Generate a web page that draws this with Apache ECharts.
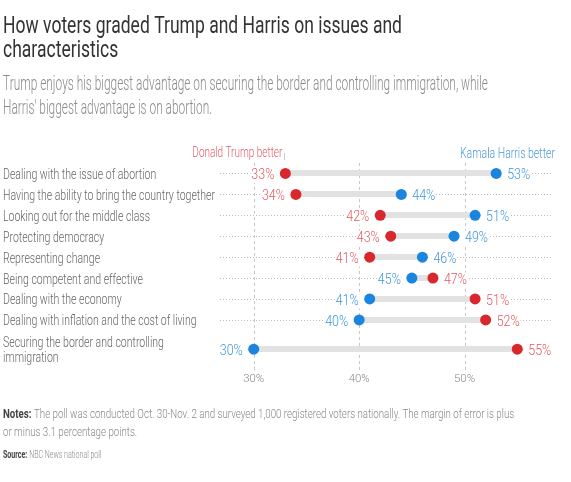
<!DOCTYPE html>
<html><head><meta charset="utf-8">
<script src="https://cdn.jsdelivr.net/npm/echarts@6/dist/echarts.min.js"></script>
<style>html,body{margin:0;padding:0;background:#fff}#c{width:571px;height:482px}</style>
</head><body><div id="c"></div>
<script>
const categories = [
  "Dealing with the issue of abortion",
  "Having the ability to bring the country together",
  "Looking out for the middle class",
  "Protecting democracy",
  "Representing change",
  "Being competent and effective",
  "Dealing with the economy",
  "Dealing with inflation and the cost of living",
  "Securing the border and controlling\nimmigration"
];
const trump  = [33, 34, 42, 43, 41, 47, 51, 52, 55];
const harris = [53, 44, 51, 49, 46, 45, 41, 40, 30];
const xTicks = [30, 40, 50];

const titleText = 'How voters graded Trump and Harris on issues and\ncharacteristics';
const subText = "Trump enjoys his biggest advantage on securing the border and controlling immigration, while\nHarris' biggest advantage is on abortion.";
const notesL1 = 'The poll was conducted Oct. 30-Nov. 2 and surveyed 1,000 registered voters nationally. The margin of error is plus';
const notesL2 = 'or minus 3.1 percentage points.';
const sourceText = 'NBC News national poll';

// Row positions on the y scale: each row is one unit tall, plus extra room per extra label line.
const EXTRA_LINE = 0.8;
const rowH = categories.map(c => 1 + EXTRA_LINE * (c.split('\n').length - 1));
const rowPos = [];
rowH.forEach((h, i) => rowPos.push(i === 0 ? 0 : rowPos[i - 1] + rowH[i - 1] / 2 + h / 2));
const yMin = -rowH[0] / 2, yMax = rowPos[rowPos.length - 1] + rowH[rowH.length - 1] / 2;

const FAM = 'Roboto';
const mctx = document.createElement('canvas').getContext('2d');
function mw(font, text) { mctx.font = font; return mctx.measureText(text).width; }
function scaleFor(size, text, target, weight) {
  return target / mw(`${weight || 'normal'} ${size}px ${FAM}`, text);
}
const catSx = scaleFor(14, categories[1], 212, 300);
const valSx = scaleFor(15, '33%', 23, 300);
const tickSize = Math.min(13, +(13 * 21 / mw(`300 13px ${FAM}`, '30%')).toFixed(2));

const RED = '#d9272e', BLUE = '#1b84df', RED_T = '#e05a60', BLUE_T = '#3d96de';

function valueLabels(vals, other, color) {
  return {
    type: 'custom', silent: true, z: 6,
    data: vals.map((v, i) => [v, rowPos[i], other[i]]),
    encode: { x: 0, y: 1 },
    renderItem: (params, api) => {
      const v = api.value(0), o = api.value(2);
      const p = api.coord([v, api.value(1)]);
      const left = v < o;
      return { type: 'text', x: p[0] + (left ? -6 : 6), y: p[1] + 2, scaleX: valSx,
        style: { text: v + '%', x: 0, y: 0, align: left ? 'right' : 'left', verticalAlign: 'middle',
          fill: color, font: `300 15px ${FAM}`, backgroundColor: '#fff',
          padding: left ? [0, 5 / valSx, 0, 1] : [0, 1, 0, 5 / valSx] } };
    }
  };
}

const chart = echarts.init(document.getElementById('c'), null, { renderer: 'canvas' });
chart.setOption({
  animation: false,
  grid: { left: 220, right: 20, top: 163, bottom: 114 },
  xAxis: {
    type: 'value', min: 26.8, max: 58.2,
    axisLine: { show: false }, axisTick: { show: false }, splitLine: { show: false },
    axisLabel: { customValues: xTicks, formatter: '{value}%', color: '#888', fontFamily: FAM, fontWeight: 300, fontSize: tickSize, margin: 6 }
  },
  yAxis: {
    type: 'value', inverse: true, min: yMin, max: yMax,
    axisLine: { show: false }, axisTick: { show: false }, splitLine: { show: false },
    axisLabel: { show: false }
  },
  series: [
    { type: 'custom', silent: true, z: 0, clip: false,
      data: xTicks.map(v => [v, 0]),
      renderItem: (params, api) => {
        const cs = params.coordSys;
        const x = Math.round(api.coord([api.value(0), 0])[0]) + 0.5;
        return { type: 'line', shape: { x1: x, y1: cs.y, x2: x, y2: cs.y + cs.height + 2 },
          style: { stroke: '#c8c8c8', lineWidth: 1, lineDash: [3, 3] } };
      } },
    { type: 'custom', silent: true, z: 1,
      data: rowPos.map(p => [30, p]),
      renderItem: (params, api) => {
        const cs = params.coordSys;
        const y = Math.round(api.coord([30, api.value(1)])[1]) + 0.5;
        return { type: 'line', shape: { x1: cs.x, y1: y, x2: cs.x + cs.width, y2: y },
          style: { stroke: '#bcbcbc', lineWidth: 1, lineDash: [1, 2] } };
      } },
    { // category labels, placed on the y scale
      type: 'custom', silent: true, z: 3, clip: false,
      data: rowPos.map((p, i) => [30, p, i]),
      renderItem: (params, api) => {
        const cs = params.coordSys;
        const i = api.value(2);
        const y = api.coord([30, api.value(1)])[1];
        return { type: 'text', x: cs.x - 217, y: y + 2, scaleX: catSx,
          style: { text: categories[i], x: 0, y: 0, align: 'left', verticalAlign: 'middle',
            fill: '#666', font: `300 14px ${FAM}`, lineHeight: 15 } };
      } },
    { type: 'custom', silent: true, z: 2,
      data: trump.map((t, i) => [Math.min(t, harris[i]), Math.max(t, harris[i]), rowPos[i]]),
      encode: { x: [0, 1], y: 2 },
      renderItem: (params, api) => {
        const a = api.coord([api.value(0), api.value(2)]);
        const b = api.coord([api.value(1), api.value(2)]);
        return { type: 'rect', shape: { x: a[0], y: Math.round(a[1]) - 3, width: b[0] - a[0], height: 6 },
          style: { fill: '#e2e2e2' } };
      } },
    { name: 'Trump', type: 'scatter', z: 5, symbolSize: 11,
      itemStyle: { color: RED, opacity: 1 }, data: trump.map((v, i) => [v, rowPos[i]]) },
    { name: 'Harris', type: 'scatter', z: 5, symbolSize: 11,
      itemStyle: { color: BLUE, opacity: 1 }, data: harris.map((v, i) => [v, rowPos[i]]) },
    valueLabels(trump, harris, RED_T),
    valueLabels(harris, trump, BLUE_T)
  ]
});

const tp = chart.convertToPixel({ gridIndex: 0 }, [trump[0], rowPos[0]]);
const hp = chart.convertToPixel({ gridIndex: 0 }, [harris[0], rowPos[0]]);

function gtext(x, y, text, size, lh, fill, target, widest, weight) {
  const sx = scaleFor(size, widest, target, weight);
  return { type: 'text', x: x, y: y, scaleX: sx, z: 10,
    style: { text: text, x: 0, y: 0, fill: fill, font: `${weight || 'normal'} ${size}px ${FAM}`,
      lineHeight: lh, verticalAlign: 'top' } };
}
const legT = gtext(0, 145.5, 'Donald Trump better', 15.5, 16, '#e0606a', 90, 'Donald Trump better', 300);
legT.x = tp[0] - 3 - 90;
const legH = gtext(460, 146, 'Kamala Harris better', 14.5, 16, '#4a9ad8', 95, 'Kamala Harris better', 300);

const nSx = scaleFor(13.5, 'Notes: ' + notesL1, 510, 300);
const sSx = scaleFor(11.7, 'Source: ' + sourceText, 97, 300);

chart.setOption({
  graphic: [
    gtext(3, 15.5, titleText, 23, 24, '#333', 399, 'How voters graded Trump and Harris on issues and'),
    gtext(3, 73, subText, 19.5, 24, '#8a8a8a', 485, subText.split('\n')[0], 300),
    legT,
    { type: 'line', shape: { x1: Math.round(tp[0]) - 0.5, y1: 153, x2: Math.round(tp[0]) - 0.5, y2: 160 }, style: { stroke: '#ccc', lineWidth: 1 } },
    legH,
    { type: 'line', shape: { x1: Math.round(hp[0]) - 7.5, y1: 148, x2: Math.round(hp[0]) - 7.5, y2: 158 }, style: { stroke: '#ccc', lineWidth: 1 } },
    { type: 'text', x: 3, y: 406, scaleX: nSx,
      style: { x: 0, y: 0, verticalAlign: 'top', lineHeight: 18,
        rich: { b: { fontWeight: 'bold', fill: '#444', fontFamily: FAM, fontSize: 13.5, lineHeight: 18 },
                n: { fill: '#888', fontFamily: FAM, fontWeight: 300, fontSize: 13.5, lineHeight: 18 } },
        text: '{b|Notes:} {n|' + notesL1 + '}\n{n|' + notesL2 + '}' } },
    { type: 'text', x: 3, y: 448, scaleX: sSx,
      style: { x: 0, y: 0, verticalAlign: 'top', lineHeight: 14,
        rich: { b: { fontWeight: 'bold', fill: '#444', fontFamily: FAM, fontSize: 11.7, lineHeight: 14 },
                n: { fill: '#888', fontFamily: FAM, fontWeight: 300, fontSize: 11.7, lineHeight: 14 } },
        text: '{b|Source:} {n|' + sourceText + '}' } }
  ]
});
</script>
</body></html>
